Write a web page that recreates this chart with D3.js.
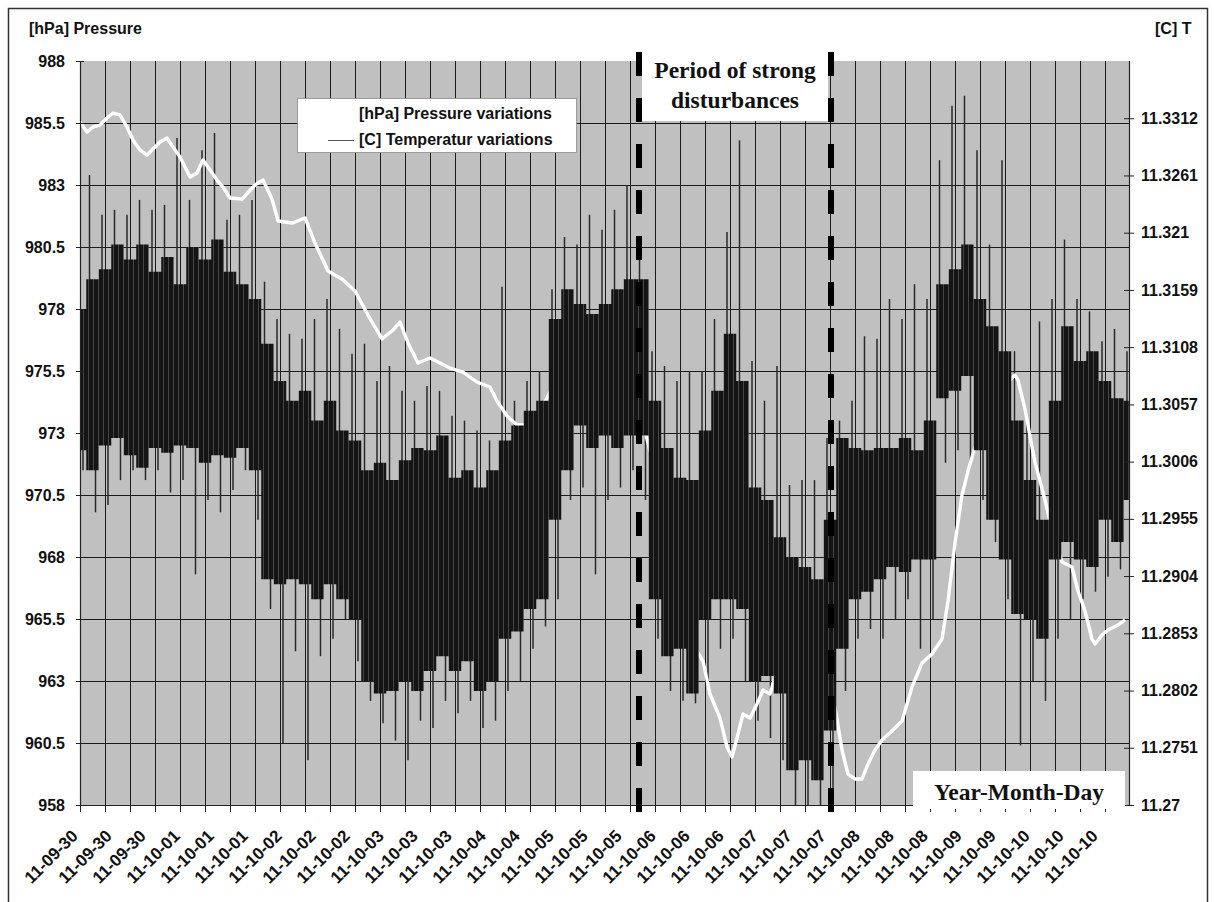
<!DOCTYPE html>
<html>
<head>
<meta charset="utf-8">
<script src="https://cdn.jsdelivr.net/npm/d3@7"></script>
<style>
  body { margin: 0; background: #fff; }
  svg text { font-family: "Liberation Sans", Arial, sans-serif; font-weight: bold; fill: #111; }
  svg text.serif { font-family: "Liberation Serif", "Times New Roman", serif; }
</style>
</head>
<body>
<svg id="chart" width="1214" height="902"></svg>
<script>
// ---- data ----
var xLabels = ["11-09-30","11-09-30","11-09-30","11-10-01","11-10-01","11-10-01",
  "11-10-02","11-10-02","11-10-02","11-10-03","11-10-03","11-10-03","11-10-04","11-10-04",
  "11-10-05","11-10-05","11-10-05","11-10-06","11-10-06","11-10-06","11-10-07","11-10-07",
  "11-10-07","11-10-08","11-10-08","11-10-08","11-10-09","11-10-09","11-10-10","11-10-10","11-10-10"];
var labelEveryHours = 8.5;
var gridEveryHours = 6.25;
var spanHours = 262.25;

var pTicks = [958, 960.5, 963, 965.5, 968, 970.5, 973, 975.5, 978, 980.5, 983, 985.5, 988];
var tTicks = [11.27, 11.2751, 11.2802, 11.2853, 11.2904, 11.2955, 11.3006, 11.3057, 11.3108, 11.3159, 11.321, 11.3261, 11.3312];
var tDomain = [11.27, 11.3363];

// pressure, one sample every 3.125 h: dense band (core) and spike extremes
var pStepHours = 3.125;
var pCoreHi = [978.0, 979.2, 979.6, 980.6, 980.0, 980.6, 979.5, 980.1, 979.0, 980.5,
  980.0, 980.8, 979.5, 979.0, 978.4, 976.6, 975.1, 974.3, 974.7, 973.5,
  974.3, 973.1, 972.7, 971.5, 971.8, 971.1, 971.9, 972.4, 972.3, 972.9,
  971.2, 971.5, 970.8, 971.5, 972.7, 973.3, 973.9, 974.3, 977.6, 978.8,
  978.2, 977.8, 978.2, 978.8, 979.2, 979.2, 974.3, 972.4, 971.2, 971.1,
  973.1, 974.7, 977.0, 975.1, 970.8, 970.3, 968.8, 968.0, 967.6, 967.1,
  969.5, 972.8, 972.4, 972.3, 972.4, 972.4, 972.8, 972.3, 973.5, 979.0,
  979.6, 980.6, 978.4, 977.3, 976.3, 973.5, 971.1, 969.5, 974.3, 977.3,
  975.9, 976.3, 975.1, 974.4, 974.3];
var pCoreLo = [972.3, 971.5, 972.5, 972.8, 972.1, 971.6, 972.4, 972.2, 972.5, 972.4,
  971.8, 972.1, 972.0, 972.4, 971.5, 967.1, 966.9, 967.1, 966.9, 966.3,
  966.9, 966.3, 965.5, 963.0, 962.5, 962.6, 963.0, 962.6, 963.4, 964.0,
  963.4, 963.8, 962.6, 963.0, 964.7, 965.0, 965.9, 966.3, 969.5, 971.5,
  973.3, 972.4, 972.9, 972.4, 972.9, 972.9, 966.3, 964.0, 964.3, 962.5,
  965.5, 966.3, 966.3, 965.9, 963.0, 963.2, 962.5, 959.4, 959.8, 959.0,
  961.0, 964.3, 966.3, 966.6, 967.1, 967.6, 967.4, 967.9, 967.9, 974.4,
  974.7, 975.3, 972.3, 969.5, 967.9, 965.7, 965.5, 964.7, 967.9, 968.6,
  967.9, 967.6, 969.5, 968.6, 970.3];
var pSpikeHi = [980.2, 983.4, 981.8, 982.0, 981.8, 982.4, 982.0, 982.2, 984.9, 982.4,
  984.4, 985.1, 981.6, 981.8, 982.4, 979.1, 977.6, 977.0, 976.8, 977.6,
  978.4, 977.2, 976.2, 976.6, 975.1, 975.7, 974.7, 974.3, 974.9, 974.7,
  973.7, 973.5, 973.1, 972.7, 978.9, 974.3, 975.1, 975.5, 978.8, 980.9,
  980.6, 981.8, 981.2, 982.0, 983.0, 980.8, 976.3, 975.7, 975.1, 975.5,
  975.5, 977.6, 981.1, 984.8, 975.9, 974.3, 975.7, 970.9, 971.1, 971.1,
  972.8, 973.5, 974.3, 976.9, 976.8, 978.4, 977.6, 979.0, 978.4, 984.0,
  986.2, 986.6, 984.4, 980.6, 984.0, 976.3, 973.5, 977.5, 978.4, 980.8,
  978.4, 977.9, 976.7, 977.2, 976.3];
var pSpikeLo = [971.5, 969.8, 970.1, 971.1, 971.5, 971.1, 971.5, 970.6, 971.1, 967.3,
  970.3, 969.8, 970.7, 971.5, 969.5, 965.9, 960.5, 964.2, 959.8, 964.0,
  964.7, 965.5, 963.8, 962.2, 961.3, 960.6, 959.8, 961.4, 961.1, 962.2,
  961.7, 962.2, 961.1, 961.4, 962.6, 963.0, 964.3, 965.2, 966.3, 970.3,
  970.8, 967.3, 970.3, 970.8, 971.5, 970.3, 964.7, 962.6, 962.2, 962.1,
  963.0, 964.3, 964.7, 963.0, 961.4, 960.7, 959.8, 958.0, 958.0, 958.0,
  958.0, 962.6, 964.7, 965.1, 964.7, 965.5, 966.3, 964.3, 965.5, 971.8,
  972.3, 971.8, 970.3, 968.6, 966.3, 960.4, 963.0, 962.2, 964.7, 965.5,
  966.3, 966.6, 967.2, 967.5, 967.9];

// temperature (right axis)
var tHours = [0, 1.75, 3.25, 5, 6.75, 8.25, 10, 11.75, 13.25, 15, 16.75, 18, 20, 21.75, 23.25,
  25, 27.5, 29.25, 30.75, 32.5, 34.25, 35.75, 37.5, 40.5, 43.75, 45.75, 48, 49.5, 53, 56.25,
  58.75, 62, 65.5, 68.75, 72, 75.5, 78, 80, 82, 84.5, 87.5, 92.5, 95.75, 99.25, 102.5, 104.25,
  106.75, 109.25, 111.75, 114.25, 115.75, 117.5, 121.25, 124.25, 126.75, 130, 133.75, 137.5,
  140, 143.75, 147.5, 151.25, 154.25, 155.75, 157.5, 160, 161.75, 163, 164.25, 165.75, 167.5,
  169.25, 170.75, 172.5, 174.25, 175, 177.5, 180, 183.75, 186.25, 188.75, 190.5, 192, 193.75,
  195.5, 197, 198.75, 200.5, 203, 205.5, 208, 210.5, 213, 215.5, 217, 218.75, 220.5, 222,
  223.75, 226.25, 228.75, 231.25, 233.75, 234.5, 236.25, 238, 238.75, 241.25, 243, 245.5,
  248, 249.5, 251.25, 253, 253.75, 255.5, 257, 259.5, 261.25];
var tValues = [11.33086, 11.32997, 11.33042, 11.33059, 11.33122, 11.33166, 11.33149, 11.33042,
  11.32926, 11.32837, 11.32792, 11.32837, 11.32908, 11.32944, 11.32863, 11.32774, 11.32596,
  11.32632, 11.32748, 11.32658, 11.32569, 11.32507, 11.32409, 11.324, 11.32525, 11.32569,
  11.324, 11.32204, 11.32186, 11.32231, 11.32008, 11.31758, 11.31687, 11.3158, 11.31366,
  11.31153, 11.31224, 11.31304, 11.31117, 11.30939, 11.30983, 11.30894, 11.30858, 11.30769,
  11.30725, 11.306, 11.30466, 11.30386, 11.30386, 11.30466, 11.30556, 11.3068, 11.30787,
  11.30921, 11.30965, 11.30858, 11.30716, 11.306, 11.30502, 11.29985, 11.29361, 11.28827,
  11.28372, 11.28283, 11.27989, 11.27775, 11.27517, 11.27428, 11.27597, 11.27811, 11.27775,
  11.279, 11.28025, 11.27989, 11.28203, 11.28283, 11.28025, 11.27847, 11.27704, 11.27793,
  11.27873, 11.2749, 11.27276, 11.27232, 11.27232, 11.27365, 11.2749, 11.27579, 11.27659,
  11.27749, 11.28052, 11.28265, 11.28346, 11.28479, 11.28818, 11.29335, 11.29762, 11.29976,
  11.3019, 11.30431, 11.30609, 11.30743, 11.30832, 11.30787, 11.30529, 11.3019, 11.30056,
  11.29718, 11.29451, 11.29165, 11.29121, 11.28907, 11.28729, 11.28479, 11.28435, 11.28515,
  11.28559, 11.28604, 11.28649];

var disturbHours = [139.75, 187.75];

// ---- layout ----
var W = 1214, H = 902;
var plot = {left: 80, right: 1129, top: 61, bottom: 805};

var svg = d3.select("#chart");

var x = d3.scaleLinear().domain([0, spanHours]).range([plot.left, plot.right]);
var yP = d3.scaleLinear().domain([pTicks[0], pTicks[pTicks.length - 1]]).range([plot.bottom, plot.top]);
var yT = d3.scaleLinear().domain(tDomain).range([plot.bottom, plot.top]);
var px = function(v) { return Math.round(v) + 0.5 };

// striped fill so the dense band reads as many packed traces
var defs = svg.append("defs");
var pat = defs.append("pattern").attr("id", "dense").attr("patternUnits", "userSpaceOnUse")
  .attr("width", 5).attr("height", 8);
pat.append("rect").attr("width", 5).attr("height", 8).attr("fill", "#141414");
pat.append("rect").attr("x", 3).attr("width", 1).attr("height", 8).attr("fill", "#444");
defs.append("clipPath").attr("id", "plotclip").append("rect")
  .attr("x", plot.left).attr("y", plot.top)
  .attr("width", plot.right - plot.left).attr("height", plot.bottom - plot.top);

svg.append("rect").attr("width", W).attr("height", H).attr("fill", "#fff");

// plot background
svg.append("rect")
  .attr("x", plot.left).attr("y", plot.top)
  .attr("width", plot.right - plot.left).attr("height", plot.bottom - plot.top)
  .attr("fill", "#c0c0c0");

// grid
var gridHours = d3.range(gridEveryHours, spanHours, gridEveryHours);
var grid = svg.append("g").attr("stroke", "#1a1a1a").attr("stroke-width", 1);
grid.selectAll("line.v").data(gridHours).join("line").attr("class", "v")
  .attr("x1", function(d) { return px(x(d)) }).attr("x2", function(d) { return px(x(d)) })
  .attr("y1", plot.top).attr("y2", plot.bottom);
grid.selectAll("line.h").data(pTicks.slice(1, -1)).join("line").attr("class", "h")
  .attr("x1", plot.left).attr("x2", plot.right)
  .attr("y1", function(d) { return px(yP(d)) }).attr("y2", function(d) { return px(yP(d)) });

var data = svg.append("g").attr("clip-path", "url(#plotclip)");

// pressure spikes: upward ones a little left of the sample, downward ones a little right
var pIdx = d3.range(pCoreHi.length);
var spikes = data.append("g").attr("stroke", "#2a2a2a").attr("stroke-width", 1.5);
spikes.selectAll("line.up").data(pIdx).join("line").attr("class", "up")
  .attr("x1", function(i) { return x(i * pStepHours) - 3 }).attr("x2", function(i) { return x(i * pStepHours) - 3 })
  .attr("y1", function(i) { return yP(pSpikeHi[i]) }).attr("y2", function(i) { return yP(pCoreHi[i]) + 6 });
spikes.selectAll("line.dn").data(pIdx).join("line").attr("class", "dn")
  .attr("x1", function(i) { return x(i * pStepHours) + 3 }).attr("x2", function(i) { return x(i * pStepHours) + 3 })
  .attr("y1", function(i) { return yP(pCoreLo[i]) - 6 }).attr("y2", function(i) { return yP(pSpikeLo[i]) });

// temperature
var tLine = d3.line()
  .x(function(d, i) { return x(tHours[i]) })
  .y(function(d) { return yT(d) });
data.append("path").datum(tValues)
  .attr("d", tLine)
  .attr("fill", "none").attr("stroke", "#fff").attr("stroke-width", 3.4)
  .attr("stroke-linejoin", "round");

// pressure dense band
var core = d3.area().curve(d3.curveStep)
  .x(function(i) { return x(i * pStepHours) })
  .y0(function(i) { return yP(pCoreLo[i]) })
  .y1(function(i) { return yP(pCoreHi[i]) });
data.append("path").datum(pIdx).attr("d", core).attr("fill", "url(#dense)");

// axes
function styleAxis(g) {
  g.attr("font-size", 16).attr("font-family", "Liberation Sans, Arial, sans-serif");
  g.select(".domain").attr("stroke", "#222").attr("stroke-width", 1.2);
  g.selectAll(".tick line").attr("stroke", "#222");
}
var gL = svg.append("g").attr("transform", "translate(" + plot.left + ",0)")
  .call(d3.axisLeft(yP).tickValues(pTicks).tickFormat(function(d) { return String(d) })
    .tickSizeInner(4).tickSizeOuter(0).tickPadding(11));
styleAxis(gL);
gL.selectAll(".tick line").attr("x1", 4);

var gR = svg.append("g").attr("transform", "translate(" + plot.right + ",0)")
  .call(d3.axisRight(yT).tickValues(tTicks).tickFormat(function(d) { return String(d) })
    .tickSizeInner(5).tickSizeOuter(0).tickPadding(7));
styleAxis(gR);
gR.selectAll(".tick line").attr("x1", -5);
gR.select(".domain").attr("d", "M0.5," + plot.top + "V" + plot.bottom);

var gB = svg.append("g").attr("transform", "translate(0," + plot.bottom + ")")
  .call(d3.axisBottom(x).tickValues([0].concat(gridHours)).tickFormat("")
    .tickSizeInner(7).tickSizeOuter(0));
styleAxis(gB);

var labelHours = xLabels.map(function(d, i) { return i * labelEveryHours });
svg.append("g").selectAll("text").data(xLabels).join("text")
  .attr("transform", function(d, i) { return "translate(" + (x(labelHours[i]) - 1) + ",837) rotate(-45)" })
  .attr("text-anchor", "end").attr("font-size", 17)
  .text(function(d) { return d });

// axis titles
svg.append("text").attr("x", 29).attr("y", 34).attr("font-size", 16).text("[hPa] Pressure");
svg.append("text").attr("x", 1155).attr("y", 34).attr("font-size", 16).text("[C] T");

// legend
var lg = svg.append("g");
lg.append("rect").attr("x", 297.5).attr("y", 98.5).attr("width", 279).attr("height", 54)
  .attr("fill", "#fff").attr("stroke", "#8a8a8a").attr("stroke-width", 0.8);
lg.append("text").attr("x", 359).attr("y", 119).attr("font-size", 16).text("[hPa] Pressure variations");
lg.append("line").attr("x1", 328).attr("x2", 354).attr("y1", 140.5).attr("y2", 140.5)
  .attr("stroke", "#555").attr("stroke-width", 1);
lg.append("text").attr("x", 359).attr("y", 145).attr("font-size", 16).text("[C] Temperatur variations");

// disturbance period
svg.append("rect").attr("x", x(disturbHours[0]) + 3).attr("y", 52)
  .attr("width", x(disturbHours[1]) - x(disturbHours[0]) - 6).attr("height", 69)
  .attr("fill", "#fff");
svg.append("g").selectAll("line").data(disturbHours).join("line")
  .attr("x1", function(d) { return x(d) }).attr("x2", function(d) { return x(d) })
  .attr("y1", 52).attr("y2", 812)
  .attr("stroke", "#000").attr("stroke-width", 6).attr("stroke-dasharray", "24,22");
var midD = (x(disturbHours[0]) + x(disturbHours[1])) / 2;
svg.append("text").attr("class", "serif").attr("x", midD).attr("y", 78)
  .attr("text-anchor", "middle").attr("font-size", 23.5).text("Period of strong");
svg.append("text").attr("class", "serif").attr("x", midD).attr("y", 108)
  .attr("text-anchor", "middle").attr("font-size", 23.5).text("disturbances");

// x axis title box
svg.append("rect").attr("x", 913).attr("y", 771).attr("width", 212).attr("height", 38).attr("fill", "#fff");
svg.append("text").attr("class", "serif").attr("x", 1019).attr("y", 800)
  .attr("text-anchor", "middle").attr("font-size", 23.5).text("Year-Month-Day");

// outer frame
svg.append("rect").attr("x", 8.5).attr("y", 8.5).attr("width", 1199).attr("height", 910)
  .attr("fill", "none").attr("stroke", "#333").attr("stroke-width", 1.5);
</script>
</body>
</html>
